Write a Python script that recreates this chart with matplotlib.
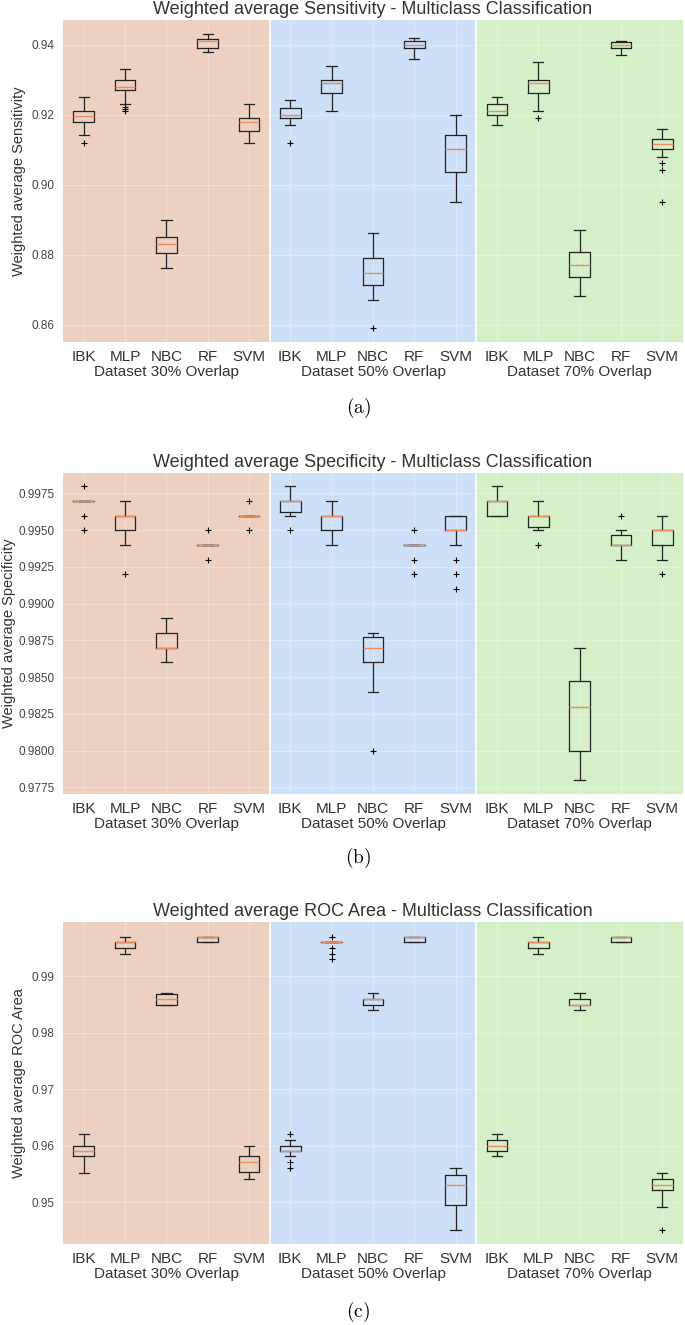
import matplotlib.pyplot as plt
import numpy as np

plt.rcParams["font.family"] = ["Liberation Sans", "DejaVu Sans"]
plt.rcParams["mathtext.fontset"] = "cm"

classifiers = ["IBK", "MLP", "NBC", "RF", "SVM"]
groups = ["Dataset 30% Overlap", "Dataset 50% Overlap", "Dataset 70% Overlap"]
group_colors = ["#ECD0C0", "#CEE0F7", "#D5EFC8"]

# five-number summaries; order: 30% x5, 50% x5, 70% x5
sens_whislo = [0.9142, 0.9230, 0.8762, 0.9381, 0.9119,
               0.9170, 0.9211, 0.8670, 0.9359, 0.8950,
               0.9170, 0.9211, 0.8682, 0.9370, 0.9080]
sens_q1 = [0.9179, 0.9270, 0.8804, 0.9390, 0.9154,
           0.9190, 0.9262, 0.8713, 0.9390, 0.9036,
           0.9200, 0.9262, 0.8737, 0.9390, 0.9103]
sens_med = [0.9196, 0.9281, 0.8830, 0.9410, 0.9179,
            0.9200, 0.9290, 0.8747, 0.9400, 0.9101,
            0.9211, 0.9290, 0.8770, 0.9400, 0.9116]
sens_q3 = [0.9211, 0.9300, 0.8850, 0.9416, 0.9190,
           0.9220, 0.9300, 0.8790, 0.9410, 0.9141,
           0.9230, 0.9300, 0.8808, 0.9409, 0.9130]
sens_whishi = [0.9250, 0.9330, 0.8900, 0.9430, 0.9230,
               0.9242, 0.9341, 0.8861, 0.9419, 0.9201,
               0.9250, 0.9350, 0.8871, 0.9410, 0.9160]
sens_fliers = [[0.9119], [0.9222, 0.9216, 0.9210], [], [], [],
               [0.9120], [], [0.8591], [], [],
               [], [0.9191], [], [], [0.9061, 0.9041, 0.8950]]

spec_whislo = [0.9970, 0.9940, 0.9860, 0.9940, 0.9960,
               0.9960, 0.9940, 0.9840, 0.9940, 0.9940,
               0.9960, 0.9950, 0.9780, 0.9930, 0.9930]
spec_q1 = [0.9970, 0.9950, 0.9870, 0.9940, 0.9960,
           0.99625, 0.9950, 0.9860, 0.9940, 0.9950,
           0.9960, 0.99523, 0.9800, 0.9940, 0.9940]
spec_med = [0.9970, 0.9960, 0.9870, 0.9940, 0.9960,
            0.9970, 0.9960, 0.9870, 0.9940, 0.9950,
            0.9970, 0.9960, 0.9830, 0.9940, 0.9950]
spec_q3 = [0.9970, 0.9960, 0.9880, 0.9940, 0.9960,
           0.9970, 0.9960, 0.9877, 0.9940, 0.9960,
           0.9970, 0.9960, 0.98473, 0.9947, 0.9950]
spec_whishi = [0.9970, 0.9970, 0.9890, 0.9940, 0.9960,
               0.9980, 0.9970, 0.9880, 0.9940, 0.9960,
               0.9980, 0.9970, 0.9870, 0.9950, 0.9960]
spec_fliers = [[0.9980, 0.9960, 0.9950], [0.9920], [], [0.9950, 0.9930], [0.9970, 0.9950],
               [0.9950], [], [0.9800], [0.9950, 0.9930, 0.9920], [0.9930, 0.9920, 0.9910],
               [], [0.9940], [], [0.9960], [0.9920]]

roc_whislo = [0.9551, 0.9940, 0.9850, 0.9961, 0.9540,
              0.9581, 0.9961, 0.9840, 0.9961, 0.9451,
              0.9581, 0.9940, 0.9840, 0.9961, 0.9491]
roc_q1 = [0.9581, 0.9950, 0.9850, 0.9961, 0.9554,
          0.9590, 0.9961, 0.9850, 0.9961, 0.9495,
          0.9590, 0.9950, 0.9850, 0.9961, 0.9521]
roc_med = [0.9590, 0.9961, 0.9860, 0.9970, 0.9571,
           0.9590, 0.9961, 0.9860, 0.9970, 0.9531,
           0.9600, 0.9961, 0.9850, 0.9970, 0.9531]
roc_q3 = [0.9600, 0.9961, 0.9869, 0.9970, 0.9581,
          0.9600, 0.9961, 0.9860, 0.9970, 0.9548,
          0.9610, 0.9961, 0.9860, 0.9970, 0.9540]
roc_whishi = [0.9620, 0.9970, 0.9870, 0.9970, 0.9600,
              0.9610, 0.9961, 0.9870, 0.9970, 0.9560,
              0.9620, 0.9970, 0.9870, 0.9970, 0.9551]
roc_fliers = [[], [], [], [], [],
              [0.9620, 0.9571, 0.9560], [0.9970, 0.9950, 0.9940, 0.9931], [], [], [],
              [], [], [], [], [0.9451]]

panels = [
    ("Weighted average Sensitivity", sens_whislo, sens_q1, sens_med, sens_q3, sens_whishi,
     sens_fliers, (0.8551, 0.9471), [0.86, 0.88, 0.90, 0.92, 0.94], "%.2f", "(a)"),
    ("Weighted average Specificity", spec_whislo, spec_q1, spec_med, spec_q3, spec_whishi,
     spec_fliers, (0.97705, 0.99891), np.arange(0.9775, 0.9980, 0.0025), "%.4f", "(b)"),
    ("Weighted average ROC Area", roc_whislo, roc_q1, roc_med, roc_q3, roc_whishi,
     roc_fliers, (0.94256, 0.99963), [0.95, 0.96, 0.97, 0.98, 0.99], "%.2f", "(c)"),
]

# axes boxes in figure fractions: left, bottom, width, height
boxes = [
    [0.092, 0.7419, 0.905, 0.2430],
    [0.092, 0.4008, 0.905, 0.2424],
    [0.092, 0.0611, 0.905, 0.2431],
]
caption_y = [0.692, 0.3525, 0.0098]
ylabel_pad = [4, 2, 4]

fig = plt.figure(figsize=(6.85, 13.25), dpi=100)

for (name, wlo, q1, med, q3, whi, fl, ylim, yticks, fmt, cap), box, cy, lp in zip(
        panels, boxes, caption_y, ylabel_pad):
    ax = fig.add_axes(box)
    ax.set_facecolor("white")
    stats = []
    for i in range(len(med)):
        stats.append({"whislo": wlo[i], "q1": q1[i], "med": med[i], "q3": q3[i],
                      "whishi": whi[i], "fliers": fl[i]})
    pos = np.arange(1, len(stats) + 1)
    for g, col in enumerate(group_colors):
        ax.axvspan(0.5 + 5 * g, 5.5 + 5 * g, color=col, zorder=0, lw=0)
    for g in range(1, 3):
        ax.axvline(0.5 + 5 * g, color="white", lw=1.2, zorder=1)
    ax.bxp(stats, positions=pos, widths=0.5,
           boxprops=dict(color="#222222", lw=0.9),
           whiskerprops=dict(color="#222222", lw=0.9),
           capprops=dict(color="#222222", lw=0.9),
           medianprops=dict(color="#ea8c5e", lw=1.0, zorder=5),
           flierprops=dict(marker="+", markeredgecolor="black", markersize=4, mew=0.8),
           zorder=3)
    ax.set_xlim(0.5, 15.5)
    ax.set_ylim(*ylim)
    ax.set_yticks(yticks)
    ax.yaxis.set_major_formatter(plt.FormatStrFormatter(fmt))
    ax.set_xticks(pos)
    ax.set_xticklabels(classifiers * 3, fontsize=11, color="#333333")
    ax.tick_params(axis="y", labelsize=8.5, labelcolor="#444444", length=0, pad=6)
    ax.tick_params(axis="x", length=0, pad=6)
    ax.grid(True, color="white", alpha=0.3, lw=0.8, zorder=2)
    ax.set_axisbelow(False)
    for s in ax.spines.values():
        s.set_visible(False)
    ax.set_ylabel(name, fontsize=10.5, color="#333333", labelpad=lp)
    ax.set_title(name + " - Multiclass Classification", fontsize=13, color="#333333", pad=4)
    for g, label in enumerate(groups):
        ax.text(3 + 5 * g, -0.093, label, transform=ax.get_xaxis_transform(),
                ha="center", va="center", fontsize=11, color="#333333")
    fig.text(0.523, cy, r"$\mathrm{" + cap + "}$", ha="center", va="center", fontsize=14)

fig.savefig("out.png", dpi=100)
